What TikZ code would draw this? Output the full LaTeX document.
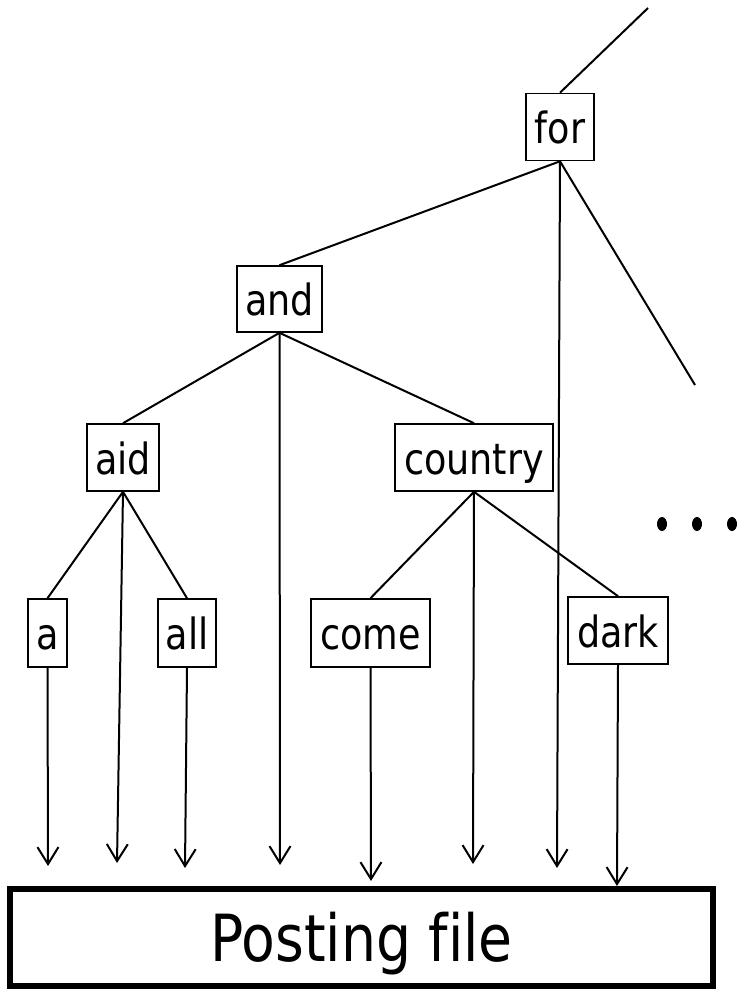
\documentclass[tikz,border=0pt]{standalone}
\usepackage{fontspec}
\setmainfont{DejaVu Sans}[FakeStretch=0.85,Ligatures=CommonOff]
\usetikzlibrary{arrows.meta}
\begin{document}
\begin{tikzpicture}[x=1pt,y=-1pt,
  word/.style={draw,line width=1.6pt,inner sep=0pt,text height=33pt,text depth=0pt,
    minimum height=67pt,font=\fontsize{43}{47}\selectfont},
  edge/.style={line width=2pt},
  ptr/.style={line width=2pt,-{Straight Barb[length=17pt,width=21pt,line width=2pt]}},
  file/.style={draw,line width=6pt,inner sep=0pt,text height=47pt,text depth=0pt,
    minimum width=703pt,minimum height=97pt,font=\fontsize{65}{70}\selectfont}]
\useasboundingbox (0,0) rectangle (737,990);

% index nodes
\node[word,minimum width=68pt]  (for)     at (560,127) {for};
\node[word,minimum width=85pt,minimum height=66pt] (and) at (279.5,299) {and};
\node[word,minimum width=72pt]  (aid)     at (123,457.5) {aid};
\node[word,minimum width=158pt] (country) at (474,457.5) {country};
\node[word,minimum width=39pt,minimum height=68pt]  (a)    at (47.5,633) {a};
\node[word,minimum width=58pt,minimum height=68pt]  (all)  at (187,633) {all};
\node[word,minimum width=119pt,minimum height=68pt] (come) at (370.5,633) {come};
\node[word,minimum width=100pt] (dark)    at (618,630.5) {dark};

% posting file
\node[file] (post) at (361.5,937.5) {Posting file};

% free ends
\coordinate (up)    at (648,8);
\coordinate (right) at (695,385);
\coordinate (ta)    at (48,866);
\coordinate (taid)  at (117,863);
\coordinate (tall)  at (185,868);
\coordinate (tand)  at (280,865);
\coordinate (tcome) at (371,881);
\coordinate (tcty)  at (473,864);
\coordinate (tfor)  at (557,868);
\coordinate (tdark) at (617,886);

% tree edges
\draw[edge] (for.north) -- (up);
\draw[edge] (for.south) -- (right);
\draw[edge] (for.south) -- (and.north);
\draw[edge] (and.south) -- (aid.north);
\draw[edge] (and.south) -- (country.north);
\draw[edge] (aid.south) -- (a.north);
\draw[edge] (aid.south) -- (all.north);
\draw[edge] (country.south) -- (come.north);
\draw[edge] (country.south) -- (dark.north);

% pointers into the posting file
\draw[ptr] (a.south) -- (ta);
\draw[ptr] (aid.south) -- (taid);
\draw[ptr] (all.south) -- (tall);
\draw[ptr] (and.south) -- (tand);
\draw[ptr] (come.south) -- (tcome);
\draw[ptr] (country.south) -- (tcty);
\draw[ptr] (for.south) -- (tfor);
\draw[ptr] (dark.south) -- (tdark);

% ellipsis
\foreach \dx in {662,697,732}
  \fill (\dx,524) ellipse [x radius=5pt,y radius=7pt];
\end{tikzpicture}
\end{document}
